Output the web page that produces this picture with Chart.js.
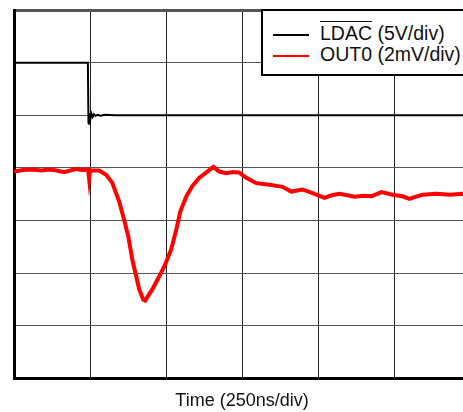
<!DOCTYPE html>
<html>
<head>
<meta charset="utf-8">
<script src="https://cdn.jsdelivr.net/npm/chart.js@4/dist/chart.umd.min.js"></script>
<style>
  html, body { margin: 0; padding: 0; background: #fff; overflow: hidden; }
  #wrap { position: relative; width: 480px; height: 412px; }
  #legend {
    position: absolute; left: 261px; top: 9px; width: 230px; height: 63px;
    border: 2px solid #000; background: #fff;
    font-family: "Liberation Sans", Arial, sans-serif; font-size: 19.5px; color: #111;
  }
  #legend .row { position: absolute; left: 10px; height: 20px; line-height: 20px; white-space: nowrap; }
  #legend .swatch { display: inline-block; width: 36px; height: 2px; vertical-align: middle; margin-right: 11px; }
  .ov { text-decoration: overline; }
</style>
</head>
<body>
<div id="wrap">
  <canvas id="scope"></canvas>
  <div id="legend">
    <div class="row" style="top:12px"><span class="swatch" style="background:#000"></span><span class="ov">LDAC</span> (5V/div)</div>
    <div class="row" style="top:33px"><span class="swatch" style="background:#f00"></span>OUT0 (2mV/div)</div>
  </div>
</div>
<script>
// time in ns, levels in screen divisions (0 = bottom of graticule)
const ldacTime = [0, 243, 245, 247, 249, 252, 255, 259, 263, 268, 275, 285, 300, 330, 1500];
const ldacLevel = [6.0, 6.0, 4.85, 4.84, 5.04, 4.95, 5.03, 4.97, 5.02, 4.99, 5.01, 4.99, 5.01, 5.0, 5.0];

const outTime = [0, 30, 59, 90, 115, 140, 165, 185, 204, 225, 244, 247, 250, 280, 303, 323, 346, 362, 376, 389, 402, 412, 425, 432, 438, 455, 478, 497, 517, 534, 547, 567, 586, 609, 632, 656, 675, 698, 720, 741, 764, 797, 840, 883, 912, 949, 982, 1021, 1045, 1071, 1120, 1150, 1176, 1209, 1245, 1278, 1301, 1320, 1344, 1390, 1433, 1476, 1500];
const outLevel = [3.93, 3.96, 3.97, 3.95, 3.97, 3.95, 3.92, 3.95, 3.98, 3.96, 3.97, 3.80, 3.95, 3.95, 3.87, 3.72, 3.36, 3.02, 2.70, 2.26, 1.94, 1.69, 1.50, 1.48, 1.54, 1.69, 1.94, 2.16, 2.45, 2.83, 3.17, 3.46, 3.65, 3.81, 3.91, 4.02, 3.93, 3.90, 3.92, 3.91, 3.81, 3.71, 3.68, 3.64, 3.55, 3.59, 3.52, 3.43, 3.48, 3.51, 3.45, 3.47, 3.46, 3.54, 3.49, 3.46, 3.41, 3.45, 3.49, 3.51, 3.49, 3.51, 3.50];

const xDivs = 6;   // 250 ns/div
const yDivs = 7;

const toPoints = (xs, ys) => xs.map((x, i) => ({ x, y: ys[i] }));

new Chart(document.getElementById('scope'), {
  type: 'line',
  data: {
    datasets: [
      {
        label: 'LDAC (5V/div)',
        data: toPoints(ldacTime, ldacLevel),
        borderColor: '#000',
        borderWidth: 2,
        pointRadius: 0,
        tension: 0
      },
      {
        label: 'OUT0 (2mV/div)',
        data: toPoints(outTime, outLevel),
        borderColor: '#ff0000',
        borderWidth: 4,
        pointRadius: 0,
        tension: 0
      }
    ]
  },
  options: {
    responsive: true,
    maintainAspectRatio: false,
    animation: false,
    layout: { padding: { left: 14, right: 10, top: 10, bottom: 0 } },
    plugins: { legend: { display: false }, tooltip: { enabled: false } },
    scales: {
      x: {
        type: 'linear',
        min: 0,
        max: xDivs * 250,
        ticks: { display: false, stepSize: 250 },
        grid: { color: '#222', lineWidth: 1, drawTicks: false },
        border: { color: '#000', width: 3 },
        title: {
          display: true,
          text: 'Time (250ns/div)',
          color: '#111',
          font: { family: '"Liberation Sans", Arial, sans-serif', size: 18 },
          padding: { top: 12, bottom: 0 }
        }
      },
      y: {
        min: 0,
        max: yDivs,
        ticks: { display: false, stepSize: 1 },
        grid: {
          color: '#555',
          lineWidth: ctx => (ctx.tick && ctx.tick.value === yDivs ? 3 : 1),
          drawTicks: false
        },
        border: { color: '#000', width: 3 }
      }
    }
  }
});
</script>
</body>
</html>
